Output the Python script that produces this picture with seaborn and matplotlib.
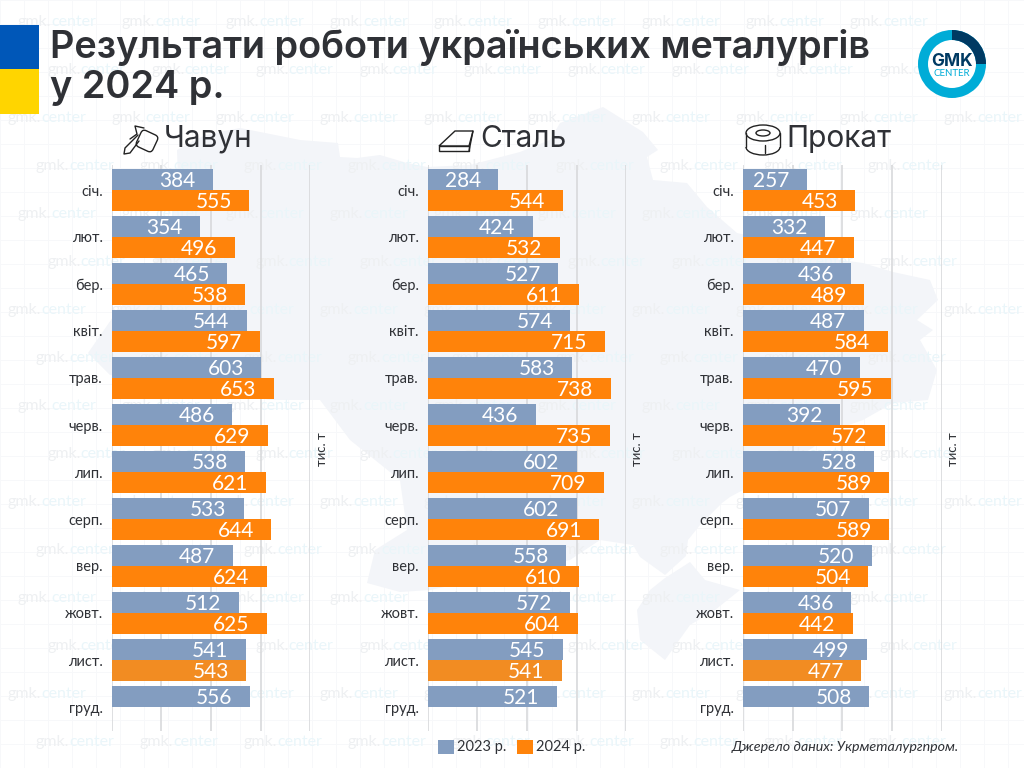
import matplotlib
matplotlib.use("Agg")
import matplotlib.pyplot as plt
import matplotlib.patches as mp
import numpy as np
import pandas as pd
import seaborn as sns

months = ["січ.", "лют.", "бер.", "квіт.", "трав.", "черв.", "лип.", "серп.", "вер.", "жовт.", "лист.", "груд."]
iron_2023 = [384, 354, 465, 544, 603, 486, 538, 533, 487, 512, 541, 556]
iron_2024 = [555, 496, 538, 597, 653, 629, 621, 644, 624, 625, 543, np.nan]
steel_2023 = [284, 424, 527, 574, 583, 436, 602, 602, 558, 572, 545, 521]
steel_2024 = [544, 532, 611, 715, 738, 735, 709, 691, 610, 604, 541, np.nan]
rolled_2023 = [257, 332, 436, 487, 470, 392, 528, 507, 520, 436, 499, 508]
rolled_2024 = [453, 447, 489, 584, 595, 572, 589, 589, 504, 442, 477, np.nan]
# the source draws the January 2023 iron bar longer than its printed 384
iron_2023_drawn = [408, 354, 465, 544, 603, 486, 538, 533, 487, 512, 541, 556]
years = ["2023 р.", "2024 р."]

BLUE, ORANGE, ORANGE_NOV = "#839dc0", "#ff830a", "#f28c22"
DARK = "#2f3136"
W, H = 1024, 768

sns.set_theme(style="white")
plt.rcParams["font.family"] = ["Lato", "DejaVu Sans"]

fig = plt.figure(figsize=(W / 100, H / 100), dpi=100, facecolor="white")

# page-level decoration, in pixel coordinates
bg = fig.add_axes([0, 0, 1, 1], zorder=0)
bg.set_xlim(0, W)
bg.set_ylim(H, 0)
bg.axis("off")

for x in range(0, W, 24):
    bg.axvline(x, color="#f7f8fa", lw=0.7, zorder=0)
for y in range(0, H, 24):
    bg.axhline(y, color="#f7f8fa", lw=0.7, zorder=0)

mainland = [(88, 353), (113, 317), (150, 270), (170, 230), (178, 180), (177, 150), (205, 135), (240, 128),
            (300, 140), (338, 143), (340, 157), (357, 158), (380, 155), (407, 163), (427, 167), (470, 165),
            (520, 152), (550, 140), (560, 123), (603, 107), (643, 132), (658, 150), (647, 157), (653, 180),
            (687, 183), (707, 207), (737, 233), (790, 245), (840, 260), (863, 263), (893, 272), (930, 280),
            (938, 300), (917, 320), (933, 330), (920, 340), (937, 370), (928, 400), (893, 403), (863, 420),
            (843, 427), (780, 470), (730, 497), (722, 503), (700, 525), (688, 540), (686, 556), (665, 575),
            (640, 557), (633, 545), (600, 540), (570, 560), (500, 575), (430, 590), (400, 592), (367, 583),
            (375, 550), (407, 530), (400, 480), (350, 440), (320, 400), (270, 400), (110, 375)]
crimea = [(637, 610), (650, 590), (665, 578), (690, 562), (705, 580), (740, 590), (715, 610), (690, 625),
          (665, 660), (640, 640)]
bg.add_patch(mp.Polygon(mainland, closed=True, fc="#f3f5f9", ec="none", zorder=1))
bg.add_patch(mp.Polygon(crimea, closed=True, fc="#f3f5f9", ec="none", zorder=1))

offsets = [18, 47, 8, 36]
for r, y in enumerate(range(22, H, 48)):
    x = offsets[r % 4]
    while x < W - 78:
        bg.text(x, y, "gmk.", color="#eef0f2", fontsize=11.5, va="center", ha="left", zorder=2)
        bg.text(x + 33, y, "center", color="#eaf6fa", fontsize=11.5, va="center", ha="left", zorder=2)
        x += 104

bg.add_patch(mp.Rectangle((0, 25), 39, 44, fc="#0057b8", ec="none", zorder=3))
bg.add_patch(mp.Rectangle((0, 69), 39, 45, fc="#ffd500", ec="none", zorder=3))

bg.text(50, 47, "Результати роботи українських металургів", color=DARK, fontsize=27.3,
        family=["Inter", "DejaVu Sans"], weight=600, va="center", ha="left", zorder=4)
bg.text(50, 88, "у 2024 р.", color=DARK, fontsize=27.3,
        family=["Inter", "DejaVu Sans"], weight=600, va="center", ha="left", zorder=4)

# logo
cx, cy = 952, 64
bg.add_patch(mp.Circle((cx, cy), 34, fc="white", ec="none", zorder=4))
bg.add_patch(mp.Wedge((cx, cy), 34, 0, 360, width=10, fc="#00acd7", ec="none", zorder=4))
bg.add_patch(mp.Wedge((cx, cy), 34, 270, 360, width=10, fc="#003a63", ec="none", zorder=5))
bg.text(cx, cy - 2, "GMK", color="#003a63", fontsize=12.5, weight="bold", ha="center", va="center",
        family=["Inter", "DejaVu Sans"], zorder=6)
bg.text(cx, cy + 9, "CENTER", color="#00acd7", fontsize=7, ha="center", va="center", zorder=6)

# panel icons
lw = 1.0
ic = dict(fill=False, ec="#222222", lw=lw, zorder=4)
# ladle
bg.add_patch(mp.FancyBboxPatch((-9, -9), 18, 18, boxstyle="round,pad=0,rounding_size=4",
                               transform=matplotlib.transforms.Affine2D().rotate_deg(25).translate(147, 141) + bg.transData, **ic))
bg.plot([138, 125, 124, 130, 139], [135, 148, 154, 153, 141], color="#222222", lw=lw, zorder=4)
bg.plot([130, 137, 135, 144], [139, 134, 126, 128], color="#222222", lw=lw, zorder=4)
# slab
bg.add_patch(mp.Polygon([(439, 146), (455, 131), (473, 131), (469, 146)], closed=True, **ic))
bg.add_patch(mp.Polygon([(439, 146), (469, 146), (469, 151), (439, 151)], closed=True, **ic))
bg.plot([473, 469], [131, 151], color="#222222", lw=lw, zorder=4)
# coil
bg.add_patch(mp.Arc((763, 147), 34, 16, theta1=0, theta2=180, ec="#222222", lw=lw, zorder=4))
bg.add_patch(mp.Ellipse((763, 133), 34, 16, **ic))
bg.add_patch(mp.Ellipse((763, 133), 14, 6, **ic))
bg.plot([746, 746], [133, 147], color="#222222", lw=lw, zorder=4)
bg.plot([780, 780], [133, 147], color="#222222", lw=lw, zorder=4)
bg.plot([765, 765], [145, 153], color="#222222", lw=lw, zorder=4)

panels = [("Чавун", iron_2023_drawn, iron_2023, iron_2024, 111.7, 164, 322),
          ("Сталь", steel_2023, steel_2023, steel_2024, 427.7, 480, 637),
          ("Прокат", rolled_2023, rolled_2023, rolled_2024, 743, 786, 953)]

TOP, BOTTOM, STEP, FIRST = 165, 731, 47, 190
handles = None
for name, drawn, printed, b, left, title_x, unit_x in panels:
    ax = fig.add_axes([left / W, 1 - BOTTOM / H, 198.5 / W, (BOTTOM - TOP) / H], zorder=2)
    ax.patch.set_alpha(0)
    df = pd.DataFrame({"month": months * 2,
                       "value": list(drawn) + list(b),
                       "year": [years[0]] * 12 + [years[1]] * 12})
    sns.barplot(data=df, y="month", x="value", hue="year", order=months, hue_order=years,
                palette=[BLUE, ORANGE], orient="h", width=42 / 47, gap=0, saturation=1,
                linewidth=0, ax=ax, zorder=3)
    ax.set_xlim(0, 800)
    ax.set_ylim(11 + (BOTTOM - FIRST - 11 * STEP) / STEP, -(FIRST - TOP) / STEP)
    ax.set_xticks([0, 200, 400, 600, 800])
    ax.set_xticklabels([])
    ax.set_xlabel("")
    ax.set_ylabel("")
    ax.grid(axis="x", color="#d8d9db", lw=1.2)
    ax.grid(axis="y", visible=False)
    ax.set_axisbelow(True)
    sns.despine(ax=ax, left=True, bottom=True, top=True, right=True)
    ax.tick_params(axis="both", length=0)
    ax.tick_params(axis="y", pad=6.5, labelsize=10.5, labelcolor=DARK)
    texts = [[str(v) for v in printed], [str(int(v)) for v in b if not np.isnan(v)]]
    for c, lab in zip(ax.containers, texts):
        for t in ax.bar_label(c, labels=lab, label_type="edge", padding=-12.5, color="white", fontsize=15):
            t.set_ha("right")
            t.xyann = (-12.5, -0.8)
    # November 2024 bar is a slightly paler orange in the source
    ax.containers[1][10].set_facecolor(ORANGE_NOV)
    handles, labels = ax.get_legend_handles_labels()
    ax.get_legend().remove()
    bg.text(title_x, 139, name, color=DARK, fontsize=21.5, ha="left", va="center",
            family=["Inter", "DejaVu Sans"], zorder=4)
    bg.text(unit_x, 449, "тис. т", color=DARK, fontsize=9.5, rotation=90, ha="center", va="center", zorder=4)

fig.legend(handles, years, ncol=2, frameon=False, loc="center", bbox_to_anchor=(511.5 / W, 1 - 747 / H),
           fontsize=10.5, labelcolor=DARK, handlelength=1.1, handleheight=1.1, handletextpad=0.2, columnspacing=0.7)

bg.text(732, 747, "Джерело даних: Укрметалургпром.", color=DARK, fontsize=10.3, style="italic",
        ha="left", va="center", zorder=4)

fig.savefig("out.png", dpi=100)
